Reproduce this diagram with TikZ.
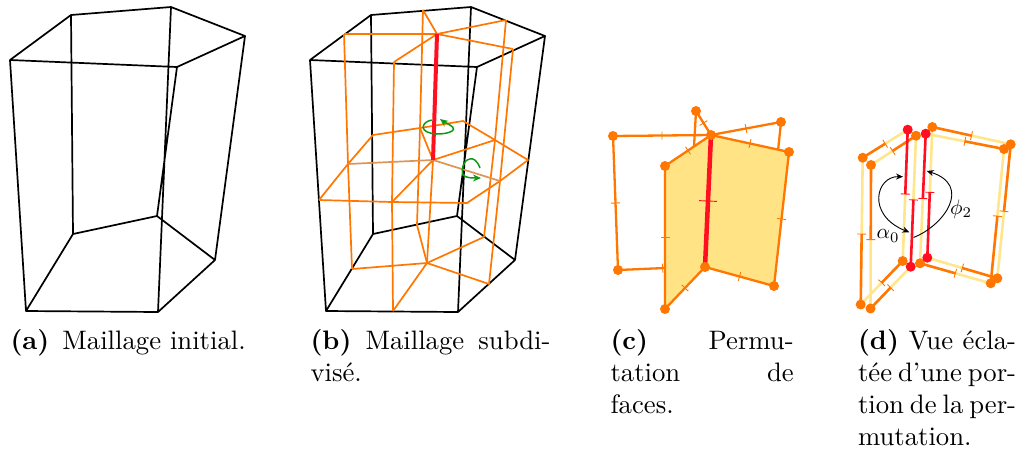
\documentclass[tikz,border=0pt]{standalone}
\usetikzlibrary{calc,arrows.meta}
\definecolor{orng}{HTML}{FF7700}
\definecolor{tanl}{HTML}{DD9455}
\definecolor{yell}{HTML}{FFE385}
\definecolor{pale}{HTML}{FFE68C}
\definecolor{rd}{HTML}{FF0F1F}
\definecolor{grn}{HTML}{0E9A14}
\newcommand{\hashmark}[5][orng]{\draw[#1,line width=.9pt] ($(#2)!#4!(#3)!#5!90:(#3)$) -- ($(#2)!#4!(#3)!#5!-90:(#3)$);}
\newcommand{\prism}[1]{%
\begin{scope}[xshift=#1]
\coordinate (A) at (10,60); \coordinate (B) at (71,15); \coordinate (C) at (171,7); \coordinate (D) at (245,36); \coordinate (E) at (177,67);
\coordinate (a) at (26,311); \coordinate (b) at (73,234); \coordinate (c) at (157,216); \coordinate (d) at (215,260); \coordinate (e) at (158,312);
\draw[blk] (A)--(B)--(C)--(D)--(E)--cycle (a)--(b)--(c)--(d)--(e)--cycle (A)--(a) (B)--(b) (C)--(e) (D)--(d) (E)--(c);
\end{scope}}
\tikzset{
 blk/.style={black,line width=1.7pt,line join=round},
 org/.style={orng,line width=1.7pt,line join=round},
 orc/.style={orng,line width=2.3pt,line join=round},
 orh/.style={orng,line width=2.6pt},
 pal/.style={pale,line width=2.6pt},
 rdh/.style={rd,line width=2.6pt},
 gr/.style={grn,line width=1.5pt,-{Stealth[length=8pt,width=7pt]}},
 ar/.style={black,line width=.9pt},
 dotc/.style={circle,fill=orng,inner sep=0pt,minimum size=10pt},
 dotd/.style={circle,fill=orng,inner sep=0pt,minimum size=10pt},
 dotr/.style={circle,fill=rd,inner sep=0pt,minimum size=10pt},
 captxt/.style={inner sep=0pt,anchor=north west,align=left,scale=2.67,font=\normalsize},
 mathlbl/.style={inner sep=0pt,scale=2.1,font=\normalsize},
}
\begin{document}
\begin{tikzpicture}[x=1pt,y=-1pt]
\useasboundingbox (0,0) rectangle (1017,451);
% panel a
\prism{0pt}
% panel b
\prism{300pt}
\coordinate (T) at (437,34); \coordinate (M) at (433,160); \coordinate (U) at (427,263);
\coordinate (t1) at (344,34); \coordinate (t2) at (423,10); \coordinate (t3) at (506,20); \coordinate (t4) at (513,49); \coordinate (t5) at (394,62);
\coordinate (f1) at (348,164); \coordinate (f2) at (420,128); \coordinate (f3) at (495,140); \coordinate (f4) at (500,181); \coordinate (f5) at (392,202);
\coordinate (u1) at (352,269); \coordinate (u2) at (417,225); \coordinate (u3) at (484,237); \coordinate (u4) at (489,284); \coordinate (u5) at (393,311);
\coordinate (r1) at (319,200); \coordinate (r2) at (373,135); \coordinate (r3) at (463,121); \coordinate (r4) at (528,160); \coordinate (r5) at (467,203);
\draw[org] (T)--(t1) (T)--(t2) (T)--(t3) (T)--(t4) (T)--(t5);
\draw[org] (t1)--(f1)--(u1) (t2)--(f2)--(u2)--(U)--(u1) (U)--(u3) (U)--(u4) (U)--(u5) (t3)--(f3)--(u3) (t4)--(f4)--(u4) (t5)--(f5)--(u5);
\draw[org] (r1)--(f1)--(r2)--(f2)--(r3)--(f3)--(r4)--(f4)--(r5)--(f5)--(r1);
\draw[org] (M)--(f2) (M)--(f3) (M)--(f5) (M)--(U);
\draw[tanl,line width=1.7pt] (f1)--(M)--(f4);
\draw[rd,line width=4pt] (T)--(M);
\draw[gr] (431.7,120) .. controls (421,122) and (418,133) .. (436.7,134) .. controls (450,134) and (456,130) .. (452.7,127) .. controls (449,124) and (444,122) .. (440,119);
\draw[gr] (480,168) .. controls (477,160) and (473,158) .. (470,159) .. controls (463,160) and (461,170) .. (463,175) .. controls (466,178) and (472,178) .. (481,178);
% panel c
\coordinate (c1) at (613,136); \coordinate (c2) at (618,270); \coordinate (c3) at (665,166); \coordinate (c4) at (665,309); \coordinate (c5) at (711,135); \coordinate (c6) at (705,267); \coordinate (c7) at (789,152); \coordinate (c8) at (774,286); \coordinate (c9) at (696,111); \coordinate (c10) at (781,122); \coordinate (c11) at (694,147); \coordinate (c12) at (778,151); \coordinate (c13) at (665,268);
\draw[orc] (c9)--(c11) (c10)--(c12) (c9)--(c5)--(c10) (c13)--(c2)--(c1)--(c5);
\fill[yell] (c3)--(c5)--(c6)--(c4)--cycle (c5)--(c7)--(c8)--(c6)--cycle;
\draw[orc] (c3)--(c5)--(c7)--(c8)--(c6)--(c4)--cycle;
\draw[rd,line width=4.5pt] (c5)--(c6);
\hashmark{c1}{c5}{.5}{4pt}\hashmark{c1}{c2}{.5}{4.5pt}\hashmark{c2}{c13}{.95}{4.5pt}\hashmark{c3}{c5}{.5}{4.5pt}\hashmark{c3}{c4}{.5}{4.5pt}\hashmark{c4}{c6}{.5}{4.5pt}\hashmark{c5}{c7}{.5}{4.5pt}\hashmark{c7}{c8}{.5}{4.5pt}\hashmark{c6}{c8}{.5}{4.5pt}\hashmark{c5}{c10}{.5}{4.5pt}\hashmark{c9}{c5}{.5}{4.5pt}
\hashmark[rd]{c5}{c6}{.5}{9pt}
\node[dotc] (nc1) at (c1) {}; \node[dotc] (nc2) at (c2) {}; \node[dotc] (nc3) at (c3) {}; \node[dotc] (nc4) at (c4) {}; \node[dotc] (nc5) at (c5) {}; \node[dotc] (nc6) at (c6) {}; \node[dotc] (nc7) at (c7) {}; \node[dotc] (nc8) at (c8) {}; \node[dotc] (nc9) at (c9) {}; \node[dotc] (nc10) at (c10) {};
% panel d
\coordinate (d1) at (862.7,157.7); \coordinate (d2) at (871,165); \coordinate (d3) at (860.7,304.5); \coordinate (d4) at (870.5,308.5);
\coordinate (d5) at (907.7,129.7); \coordinate (d6) at (916,135.7); \coordinate (d7) at (902.7,261); \coordinate (d8) at (910.7,266.7);
\coordinate (d9) at (925.7,133.7); \coordinate (d10) at (932.3,127); \coordinate (d11) at (920,263.3); \coordinate (d12) at (927.3,257.7);
\coordinate (d13) at (1010.7,144.3); \coordinate (d14) at (1004,149); \coordinate (d15) at (997.3,278.3); \coordinate (d16) at (990.7,283.3);
% left face
\draw[orh] (d1)--($(d1)!.5!(d5)$);
\draw[pal] ($(d1)!.5!(d5)$)--(d5);
\draw[pal] (d2)--($(d2)!.48!(d6)$); \draw[orh] ($(d2)!.48!(d6)$)--(d6);
\draw[pal] (d1)--($(d1)!.52!(d3)$); \draw[orh] ($(d1)!.52!(d3)$)--(d3);
\draw[orh] (d2)--($(d2)!.52!(d4)$); \draw[pal] ($(d2)!.52!(d4)$)--(d4);
\draw[pal] (d3)--($(d3)!.5!(d7)$); \draw[orh] ($(d3)!.5!(d7)$)--(d7);
\draw[orh] (d4)--($(d4)!.5!(d8)$); \draw[pal] ($(d4)!.5!(d8)$)--(d8);
\draw[rdh] (d5)--($(d5)!.49!(d7)$); \draw[pal] ($(d5)!.49!(d7)$)--(d7);
\draw[rdh] (d8)--($(d8)!.51!(d6)$); \draw[pal] ($(d8)!.51!(d6)$)--(d6);
\draw[rdh] (d9)--($(d9)!.5!(d11)$); \draw[pal] ($(d9)!.5!(d11)$)--(d11);
\draw[rdh] (d12)--($(d12)!.5!(d10)$); \draw[pal] ($(d12)!.5!(d10)$)--(d10);
% right face
\draw[orh] (d10)--($(d10)!.5!(d13)$); \draw[pal] ($(d10)!.5!(d13)$)--(d13);
\draw[pal] (d9)--($(d9)!.5!(d14)$); \draw[orh] ($(d9)!.5!(d14)$)--(d14);
\draw[orh] (d13)--($(d13)!.5!(d15)$); \draw[pal] ($(d13)!.5!(d15)$)--(d15);
\draw[pal] (d14)--($(d14)!.5!(d16)$); \draw[orh] ($(d14)!.5!(d16)$)--(d16);
\draw[orh] (d11)--($(d11)!.5!(d16)$); \draw[pal] ($(d11)!.5!(d16)$)--(d16);
\draw[pal] (d12)--($(d12)!.5!(d15)$); \draw[orh] ($(d12)!.5!(d15)$)--(d15);
% ticks
\hashmark{d1}{d5}{.5}{4.5pt}\hashmark{d2}{d6}{.48}{4.5pt}\hashmark{d1}{d3}{.52}{4.5pt}\hashmark{d2}{d4}{.52}{4.5pt}\hashmark{d3}{d7}{.5}{4.5pt}\hashmark{d4}{d8}{.5}{4.5pt}
\hashmark{d10}{d13}{.5}{4.5pt}\hashmark{d9}{d14}{.5}{4.5pt}\hashmark{d13}{d15}{.5}{4.5pt}\hashmark{d14}{d16}{.5}{4.5pt}\hashmark{d11}{d16}{.5}{4.5pt}\hashmark{d12}{d15}{.5}{4.5pt}
\hashmark[rd]{d5}{d7}{.49}{4.5pt}\hashmark[rd]{d8}{d6}{.51}{4.5pt}\hashmark[rd]{d9}{d11}{.5}{4.5pt}\hashmark[rd]{d12}{d10}{.5}{4.5pt}
\node[dotd] (nd1) at (d1) {}; \node[dotd] (nd2) at (d2) {}; \node[dotd] (nd3) at (d3) {}; \node[dotd] (nd4) at (d4) {}; \node[dotd] (nd6) at (d6) {}; \node[dotd] (nd7) at (d7) {}; \node[dotd] (nd10) at (d10) {}; \node[dotd] (nd11) at (d11) {}; \node[dotd] (nd13) at (d13) {}; \node[dotd] (nd14) at (d14) {}; \node[dotd] (nd15) at (d15) {}; \node[dotd] (nd16) at (d16) {};
\node[dotr] (nd5) at (d5) {}; \node[dotr] (nd8) at (d8) {}; \node[dotr] (nd9) at (d9) {}; \node[dotr] (nd12) at (d12) {};
% arcs
\coordinate (a1) at (903,176.7); \coordinate (a2) at (909.3,232.3); \coordinate (p1) at (913.5,237.5); \coordinate (p2) at (926.7,171);
\draw[ar,{Stealth[length=7pt,width=6pt]}-{Stealth[length=7pt,width=6pt]}] (a1) .. controls (876,176) and (866,215) .. (a2);
\draw[ar,-{Stealth[length=7pt,width=6pt]}] (p1) .. controls (945,225) and (972,185) .. (p2);
\node[mathlbl] (alpha) at (888,236) {$\alpha_0$};
\node[mathlbl] (phi) at (961,209) {$\phi_2$};
% captions
\node[captxt] (capa) at (10,328.5) {\textbf{(a)}\hspace{1.6pt} Maillage initial.};
\node[captxt,text width=89.9pt] (capb) at (310,328.5) {\textbf{(b)}\hfill Maillage\hfill subdi-\\vis\'e.};
\node[captxt,text width=68.6pt] (capc) at (610,328.5) {\textbf{(c)}\hfill Permu-\\tation\hfill de\\faces.};
\node[captxt,text width=59.2pt] (capd) at (857.5,328.5) {\textbf{(d)}\hfill Vue\hfill \'ecla-\\t\'ee\hfill d'une\hfill por-\\tion\hfill de\hfill la\hfill per-\\mutation.};
\end{tikzpicture}
\end{document}
